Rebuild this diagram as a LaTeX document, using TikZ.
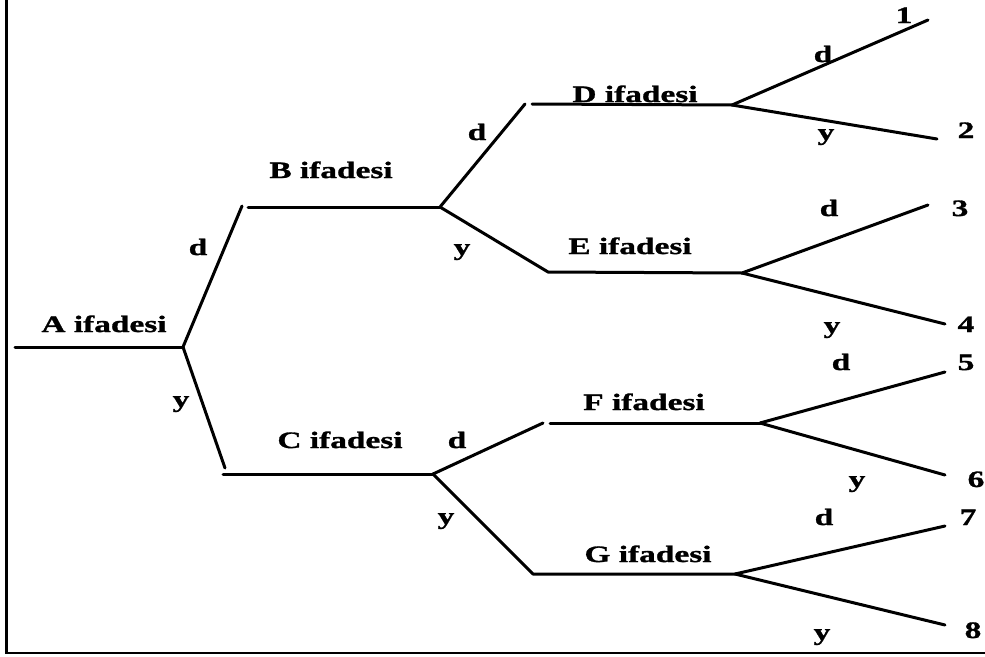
\documentclass[tikz,border=0pt]{standalone}
\usepackage{fontspec}
\setmainfont{Liberation Serif}[FakeStretch=1.42,BoldFeatures={FakeBold=1.2}]
\begin{document}
\begin{tikzpicture}[x=1pt,y=-1pt,
  branch/.style={line width=3pt,line cap=round,line join=round},
  frameline/.style={line width=2.2pt},
  lbl/.style={inner sep=0pt,anchor=base,font=\fontsize{23.5}{26}\selectfont\bfseries}]
\useasboundingbox (0,0) rectangle (985,656);
% open frame: left and bottom sides
\draw[frameline] (6.5,0) -- (6.5,653) -- (985,653);

% junction and end points
\coordinate (a0) at (15,347);
\coordinate (ja) at (183,347);
\coordinate (bt) at (242,206);  \coordinate (bs) at (248,207);  \coordinate (jb) at (440,207);
\coordinate (cb) at (225,468);  \coordinate (cs) at (223,474);  \coordinate (jc) at (433,474);
\coordinate (dt) at (525,104);  \coordinate (ds) at (532,104);  \coordinate (jd) at (732,105);
\coordinate (eb) at (548,272);  \coordinate (je) at (742,273);
\coordinate (ft) at (543,423);  \coordinate (fs) at (550,423);  \coordinate (jf) at (760,423);
\coordinate (gb) at (533,574);  \coordinate (jg) at (735,574);
\coordinate (l1) at (928,20);   \coordinate (l2) at (937,139);
\coordinate (l3) at (928,205);  \coordinate (l4) at (945,324);
\coordinate (l5) at (945,372);  \coordinate (l6) at (945,475);
\coordinate (l7) at (945,526);  \coordinate (l8) at (945,625);

% statement labels
\node[lbl] (tA) at (104,332) {A ifadesi};
\node[lbl] (tB) at (331,178) {B ifadesi};
\node[lbl] (tC) at (340,448) {C ifadesi};
\node[lbl] (tD) at (635,102) {D ifadesi};
\node[lbl] (tE) at (630,254) {E ifadesi};
\node[lbl] (tF) at (644,410) {F ifadesi};
\node[lbl] (tG) at (648,562) {G ifadesi};

% branches of the tree
\draw[branch] (a0) -- (ja);
\draw[branch] (ja) -- (bt);  \draw[branch] (bs) -- (jb);
\draw[branch] (ja) -- (cb);  \draw[branch] (cs) -- (jc);
\draw[branch] (jb) -- (dt);  \draw[branch] (ds) -- (jd);
\draw[branch] (jb) -- (eb) -- (je);
\draw[branch] (jc) -- (ft);  \draw[branch] (fs) -- (jf);
\draw[branch] (jc) -- (gb) -- (jg);
\draw[branch] (jd) -- (l1);  \draw[branch] (jd) -- (l2);
\draw[branch] (je) -- (l3);  \draw[branch] (je) -- (l4);
\draw[branch] (jf) -- (l5);  \draw[branch] (jf) -- (l6);
\draw[branch] (jg) -- (l7);  \draw[branch] (jg) -- (l8);

% d / y branch marks
\node[lbl] (mAd) at (198,255) {d};
\node[lbl] (mAy) at (181,407) {y};
\node[lbl] (mBd) at (477,140) {d};
\node[lbl] (mBy) at (462,255) {y};
\node[lbl] (mCd) at (457,448) {d};
\node[lbl] (mCy) at (446,524) {y};
\node[lbl] (mDd) at (823,62) {d};
\node[lbl] (mDy) at (826,140) {y};
\node[lbl] (mEd) at (829,216) {d};
\node[lbl] (mEy) at (832,333) {y};
\node[lbl] (mFd) at (841,370) {d};
\node[lbl] (mFy) at (857,487) {y};
\node[lbl] (mGd) at (824,525) {d};
\node[lbl] (mGy) at (822,640) {y};

% outcome numbers
\node[lbl] (n1) at (904,23) {1};
\node[lbl] (n2) at (966,138) {2};
\node[lbl] (n3) at (960,216) {3};
\node[lbl] (n4) at (966,332) {4};
\node[lbl] (n5) at (966,370) {5};
\node[lbl] (n6) at (976,487) {6};
\node[lbl] (n7) at (968,525) {7};
\node[lbl] (n8) at (973,638) {8};
\end{tikzpicture}
\end{document}
